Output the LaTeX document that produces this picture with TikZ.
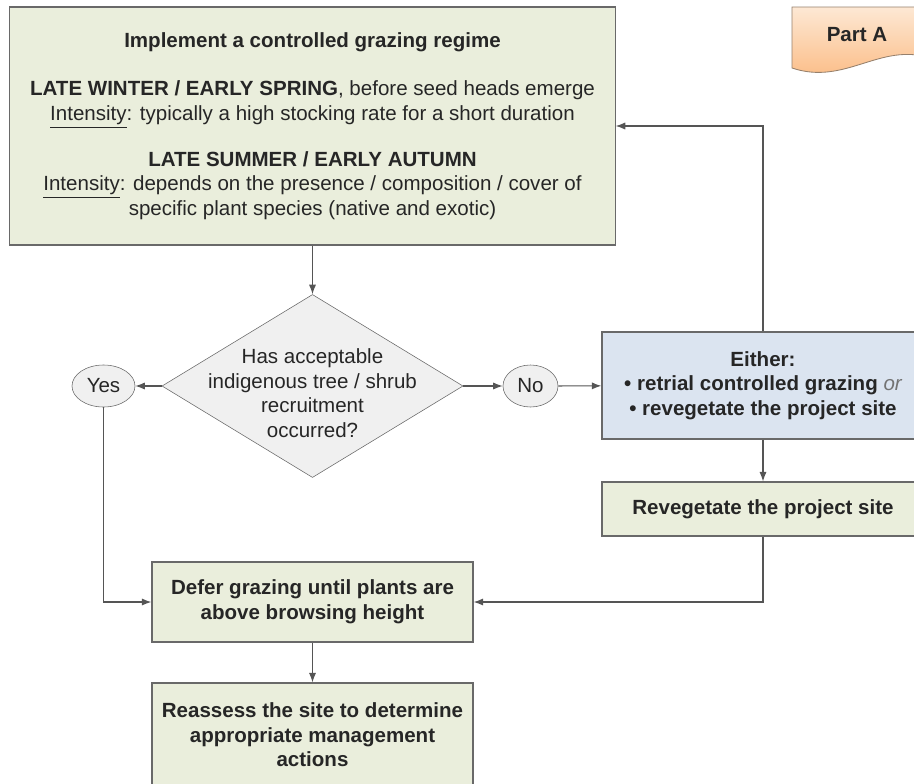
\documentclass[tikz,border=0pt]{standalone}
\usepackage{fontspec}
\setmainfont{Liberation Sans}
\usetikzlibrary{shapes.geometric, arrows.meta}
\definecolor{boxgreen}{RGB}{234,238,220}
\definecolor{boxblue}{RGB}{219,228,240}
\definecolor{qgrey}{RGB}{240,240,240}
\definecolor{edgegrey}{RGB}{105,105,105}
\definecolor{linegrey}{RGB}{85,85,85}
\definecolor{tagtop}{RGB}{253,232,212}
\definecolor{tagbottom}{RGB}{251,184,126}
\definecolor{tagedge}{RGB}{150,128,108}

\begin{document}
\begin{tikzpicture}[x=0.025cm, y=-0.025cm,
		every node/.style={font=\fontsize{14.6}{17.5}\selectfont, text=black!85},
		heavy/.style={font=\fontsize{14.6}{17.5}\selectfont\bfseries},
		stepbox/.style={draw=edgegrey, line width=0.8pt, fill=boxgreen, align=center, inner sep=0pt},
		answer/.style={draw=edgegrey, ellipse, fill=qgrey, minimum height=1.05cm, inner sep=0pt},
		arrow/.style={draw=linegrey, line width=0.8pt, -{Latex[length=2.4mm, width=1.8mm]}}]
	\useasboundingbox (0, 0) rectangle (914, 783);
	\clip (0, 0) rectangle (914, 783);

	\path[draw=tagedge, line width=0.6pt, top color=tagtop, bottom color=tagbottom]
		(792, 7) -- (930, 7) -- (930, 58) .. controls (880, 42) and (845, 86) .. (792, 68) -- cycle;
	\node[heavy] (parta) at (857, 35) {Part A};

	\node[stepbox, minimum width=15.125cm, minimum height=5.95cm] (graze) at (312.5, 126) {%
		\textbf{Implement a controlled grazing regime}\\[0.6cm]
		\textbf{LATE WINTER / EARLY SPRING}, before seed heads emerge\\
		\underline{Intensity}: typically a high stocking rate for a short duration\\[0.52cm]
		\textbf{LATE SUMMER / EARLY AUTUMN}\\
		\underline{Intensity}: depends on the presence / composition / cover of\\
		specific plant species (native and exotic)};

	\node[draw=edgegrey, diamond, fill=qgrey, minimum width=7.525cm, minimum height=4.575cm, inner sep=0pt,
		label={[align=center, yshift=-0.18cm]center:Has acceptable\\indigenous tree / shrub\\recruitment\\occurred?}]
		(test) at (312.5, 386) {};
	\node[answer, minimum width=1.575cm] (yes) at (103.5, 386) {Yes};
	\node[answer, minimum width=1.375cm] (no) at (530.5, 386) {No};

	\node[stepbox, heavy, fill=boxblue, minimum width=8.05cm, minimum height=2.675cm] (either) at (763, 385.5) {%
		Either:\\
		\textbullet\ retrial controlled grazing {\mdseries\itshape\color{black!55}or}\\
		\textbullet\ revegetate the project site};
	\node[stepbox, heavy, minimum width=8.05cm, minimum height=1.35cm] (reveg) at (763, 509) {Revegetate the project site};

	\node[stepbox, heavy, minimum width=8.025cm, minimum height=2cm] (defer) at (312.5, 602) {%
		Defer grazing until plants are\\above browsing height};
	\node[stepbox, heavy, minimum width=8.025cm, minimum height=2.6cm] (reassess) at (312.5, 735) {%
		Reassess the site to determine\\appropriate management\\actions};

	\draw[arrow] (graze) -- (test);
	\draw[arrow] (test) -- (yes);
	\draw[arrow] (test) -- (no);
	\draw[arrow] (no) -- (either);
	\draw[arrow] (either) -- (reveg);
	\draw[arrow] (either.north) |- (graze.east);
	\draw[arrow] (yes.south) |- (defer.west);
	\draw[arrow] (reveg.south) |- (defer.east);
	\draw[arrow] (defer) -- (reassess);
\end{tikzpicture}
\end{document}
